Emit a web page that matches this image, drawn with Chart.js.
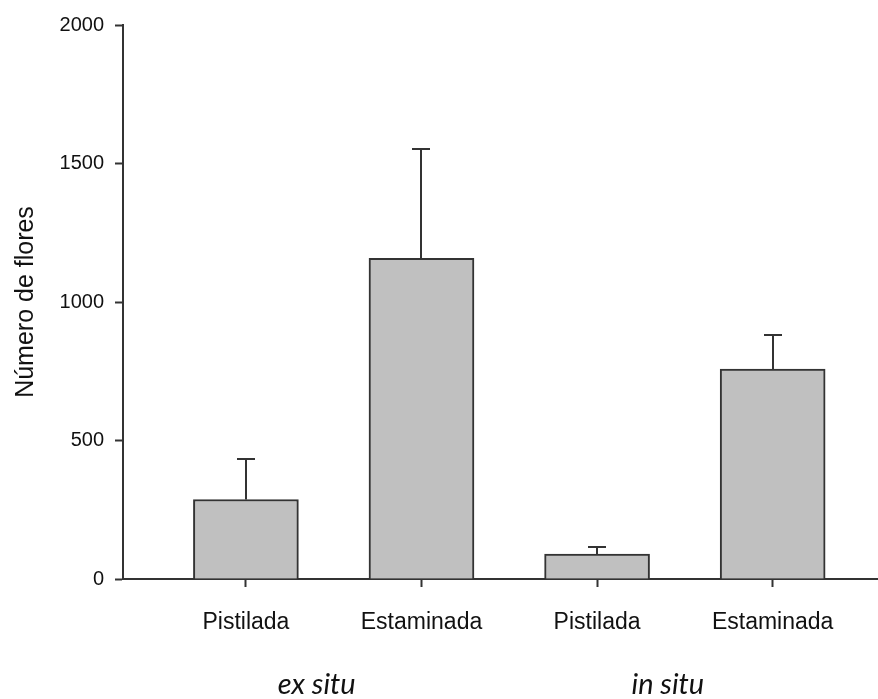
<!DOCTYPE html>
<html>
<head>
<meta charset="utf-8">
<script src="https://cdn.jsdelivr.net/npm/chart.js@4.4.1/dist/chart.umd.min.js"></script>
<style>
  html, body { margin:0; padding:0; background:#fff; }
  #wrap { width:878px; height:699px; }
</style>
</head>
<body>
<div id="wrap"><canvas id="chart"></canvas></div>
<script>
// ===== DATA =====
const categories = ['Pistilada', 'Estaminada', 'Pistilada', 'Estaminada'];
const positions = [1, 2, 3, 4];
const meanFlores = [287, 1158, 90, 758];
const upperErr = [434, 1554, 117, 880];
const groups = ['ex situ', 'in situ'];
const yTicks = [0, 500, 1000, 1500, 2000];

const axisColor = '#333';
const sans = '"Liberation Sans", Arial, sans-serif';

// ===== ERROR BARS + GROUP LABELS =====
const extras = {
  id: 'extras',
  afterDatasetsDraw(chart){
    const ctx = chart.ctx;
    const x = chart.scales.x, y = chart.scales.y;
    ctx.save();
    ctx.strokeStyle = axisColor;
    ctx.lineWidth = 2;
    positions.forEach((p,i)=>{
      const px = Math.round(x.getPixelForValue(p));
      const top = y.getPixelForValue(meanFlores[i]);
      const err = Math.round(y.getPixelForValue(upperErr[i]));
      ctx.beginPath();
      ctx.moveTo(px, top);
      ctx.lineTo(px, err);
      ctx.moveTo(px - 9, err);
      ctx.lineTo(px + 9, err);
      ctx.stroke();
    });
    // group labels under each pair of bars
    ctx.fillStyle = '#111';
    ctx.font = 'italic 29px Lato';
    ctx.textAlign = 'center';
    ctx.textBaseline = 'alphabetic';
    groups.forEach((g,i)=>{
      const mid = (x.getPixelForValue(positions[i*2]) + x.getPixelForValue(positions[i*2+1])) / 2;
      ctx.fillText(g, mid - 17, 694);
    });
    ctx.restore();
  }
};

// ===== CHART =====
new Chart(document.getElementById('chart'), {
  type: 'bar',
  data: {
    datasets: [{
      data: positions.map((p,i)=>({x:p, y:meanFlores[i]})),
      backgroundColor: '#c0c0c0',
      borderColor: axisColor,
      borderWidth: 2,
      borderSkipped: 'bottom',
      barThickness: 105
    }]
  },
  options: {
    responsive: true,
    maintainAspectRatio: false,
    animation: false,
    layout: { padding: { top: 25, right: 0, left: 0, bottom: 0 } },
    plugins: { legend: { display:false }, tooltip: { enabled:false } },
    scales: {
      x: {
        type: 'linear',
        offset: false,
        min: 0.3,
        max: 4.6,
        afterBuildTicks: s => { s.ticks = positions.map(v=>({value:v})); },
        afterFit: s => { s.height = 120; },
        grid: { offset:false, drawOnChartArea:false, tickLength:8, tickColor:axisColor, tickWidth:2 },
        border: { color:axisColor, width:2 },
        ticks: {
          callback: (v) => categories[positions.indexOf(v)],
          color:'#111',
          font: { family:sans, size:23 },
          padding: 22,
          maxRotation: 0
        }
      },
      y: {
        min: 0,
        max: 2000,
        afterBuildTicks: s => { s.ticks = yTicks.map(v=>({value:v})); },
        afterFit: s => { s.width = 123; },
        grid: { drawOnChartArea:false, tickLength:8, tickColor:axisColor, tickWidth:2 },
        border: { color:axisColor, width:2 },
        ticks: {
          callback: (v) => String(v),
          color:'#111',
          font: { family:sans, size:20 },
          padding: 11
        },
        title: {
          display: true,
          text: 'Número de flores',
          color:'#111',
          font: { family:sans, size:25 },
          padding: { top:11, bottom:0 }
        }
      }
    }
  },
  plugins: [extras]
});
</script>
</body>
</html>
